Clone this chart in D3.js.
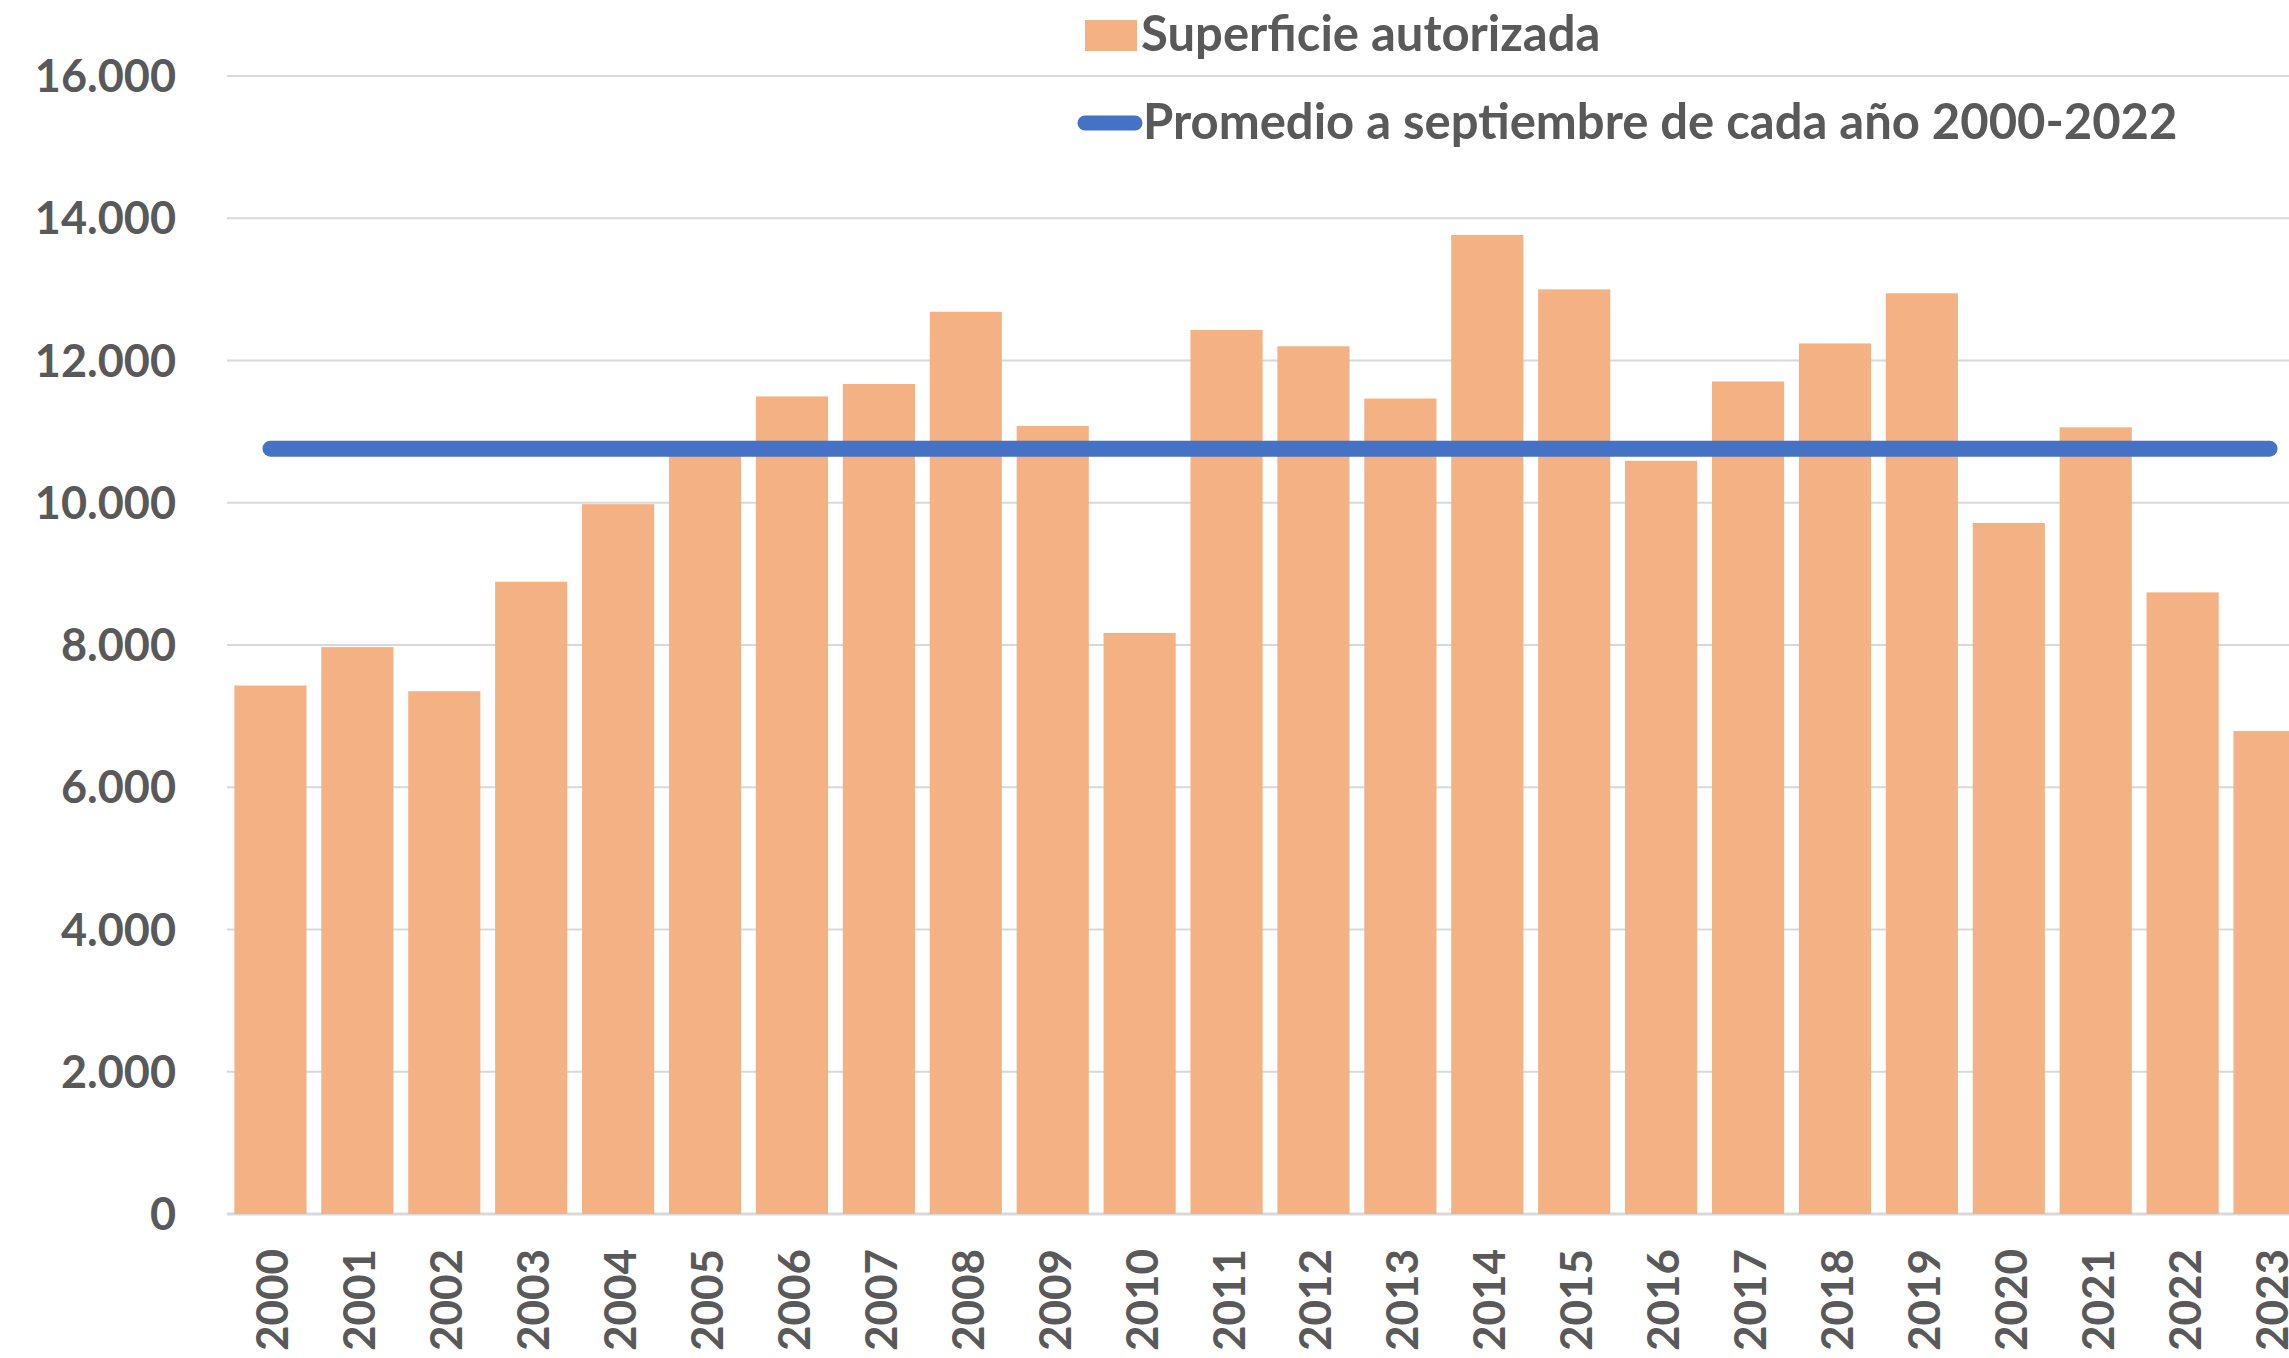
<!DOCTYPE html>
<html>
<head>
<meta charset="utf-8">
<script src="https://cdnjs.cloudflare.com/ajax/libs/d3/7.8.5/d3.min.js"></script>
<style>
    body { margin: 0; background: #ffffff; }
    #chart { width: 2289px; height: 1358px; overflow: hidden; }
    text { font-family: Lato, "Open Sans", sans-serif; font-weight: bold; fill: #595959; }
</style>
</head>
<body>
<div id="chart"></div>
<script>

// years on the x axis
var years = ["2000","2001","2002","2003","2004","2005","2006","2007","2008","2009","2010","2011",
             "2012","2013","2014","2015","2016","2017","2018","2019","2020","2021","2022","2023"];

// superficie autorizada
var superficie = [7430, 7970, 7350, 8890, 9980, 10750, 11495, 11670, 12685, 11080, 8170, 12430,
                  12200, 11465, 13765, 13000, 10590, 11705, 12240, 12945, 9715, 11060, 8740, 6790];

// promedio a septiembre 2000-2022 (flat line)
var promedio = 10760;

var yTicks = [0, 2000, 4000, 6000, 8000, 10000, 12000, 14000, 16000];

var seriesNames = ["Superficie autorizada", "Promedio a septiembre de cada año 2000-2022"];

var width = 2289;
var height = 1358;
var margin = {top: 76, left: 227, right: -24, bottom: 144};

var svg = d3.select("#chart")
    .append("svg")
    .attr("width", width)
    .attr("height", height);

var esLocale = d3.formatLocale({decimal: ",", thousands: ".", grouping: [3], currency: ["", " €"]});
var fmt = esLocale.format(",");

var xScale = d3.scaleBand()
    .domain(years)
    .range([margin.left, width - margin.right])
    .paddingInner(0.17)
    .paddingOuter(0.085);

var yScale = d3.scaleLinear()
    .domain([0, 16000])
    .range([height - margin.bottom, margin.top]);

// gridlines
svg.append("g")
    .selectAll("line")
    .data(yTicks)
    .enter()
    .append("line")
    .attr("x1", margin.left)
    .attr("x2", width)
    .attr("y1", function(d) { return yScale(d); })
    .attr("y2", function(d) { return yScale(d); })
    .attr("stroke", "#d9d9d9")
    .attr("stroke-width", function(d) { return d == 0 ? 3 : 2; });

// y labels
svg.append("g")
    .selectAll("text")
    .data(yTicks)
    .enter()
    .append("text")
    .attr("x", 176)
    .attr("y", function(d) { return yScale(d) + 16; })
    .attr("text-anchor", "end")
    .style("font-size", "45px")
    .text(function(d) { return fmt(d); });

// bars
svg.append("g")
    .selectAll("rect")
    .data(superficie)
    .enter()
    .append("rect")
    .attr("x", function(d, i) { return xScale(years[i]); })
    .attr("y", function(d) { return yScale(d); })
    .attr("width", xScale.bandwidth())
    .attr("height", function(d) { return yScale(0) - yScale(d); })
    .attr("fill", "#f4b183");

// x labels
svg.append("g")
    .selectAll("text")
    .data(years)
    .enter()
    .append("text")
    .attr("transform", function(d) {
        return "translate(" + (xScale(d) + xScale.bandwidth() / 2 + 18) + ",1249) rotate(-90)";
    })
    .attr("text-anchor", "end")
    .style("font-size", "44px")
    .text(function(d) { return d; });

// average line
var line = d3.line()
    .x(function(d) { return xScale(d) + xScale.bandwidth() / 2; })
    .y(function(d) { return yScale(promedio); });

svg.append("path")
    .datum(years)
    .attr("d", line)
    .attr("fill", "none")
    .attr("stroke", "#4472c4")
    .attr("stroke-width", 16)
    .attr("stroke-linecap", "round");

// legend
var legend = svg.append("g");

legend.append("rect")
    .attr("x", 1085)
    .attr("y", 20)
    .attr("width", 52)
    .attr("height", 31)
    .attr("fill", "#f4b183");

legend.append("line")
    .attr("x1", 1085)
    .attr("x2", 1135)
    .attr("y1", 123)
    .attr("y2", 123)
    .attr("stroke", "#4472c4")
    .attr("stroke-width", 15)
    .attr("stroke-linecap", "round");

legend.append("text")
    .attr("x", 1141)
    .attr("y", 51)
    .style("font-size", "49px")
    .text(seriesNames[0]);

legend.append("text")
    .attr("x", 1143)
    .attr("y", 139)
    .style("font-size", "49px")
    .text(seriesNames[1]);

</script>
</body>
</html>
